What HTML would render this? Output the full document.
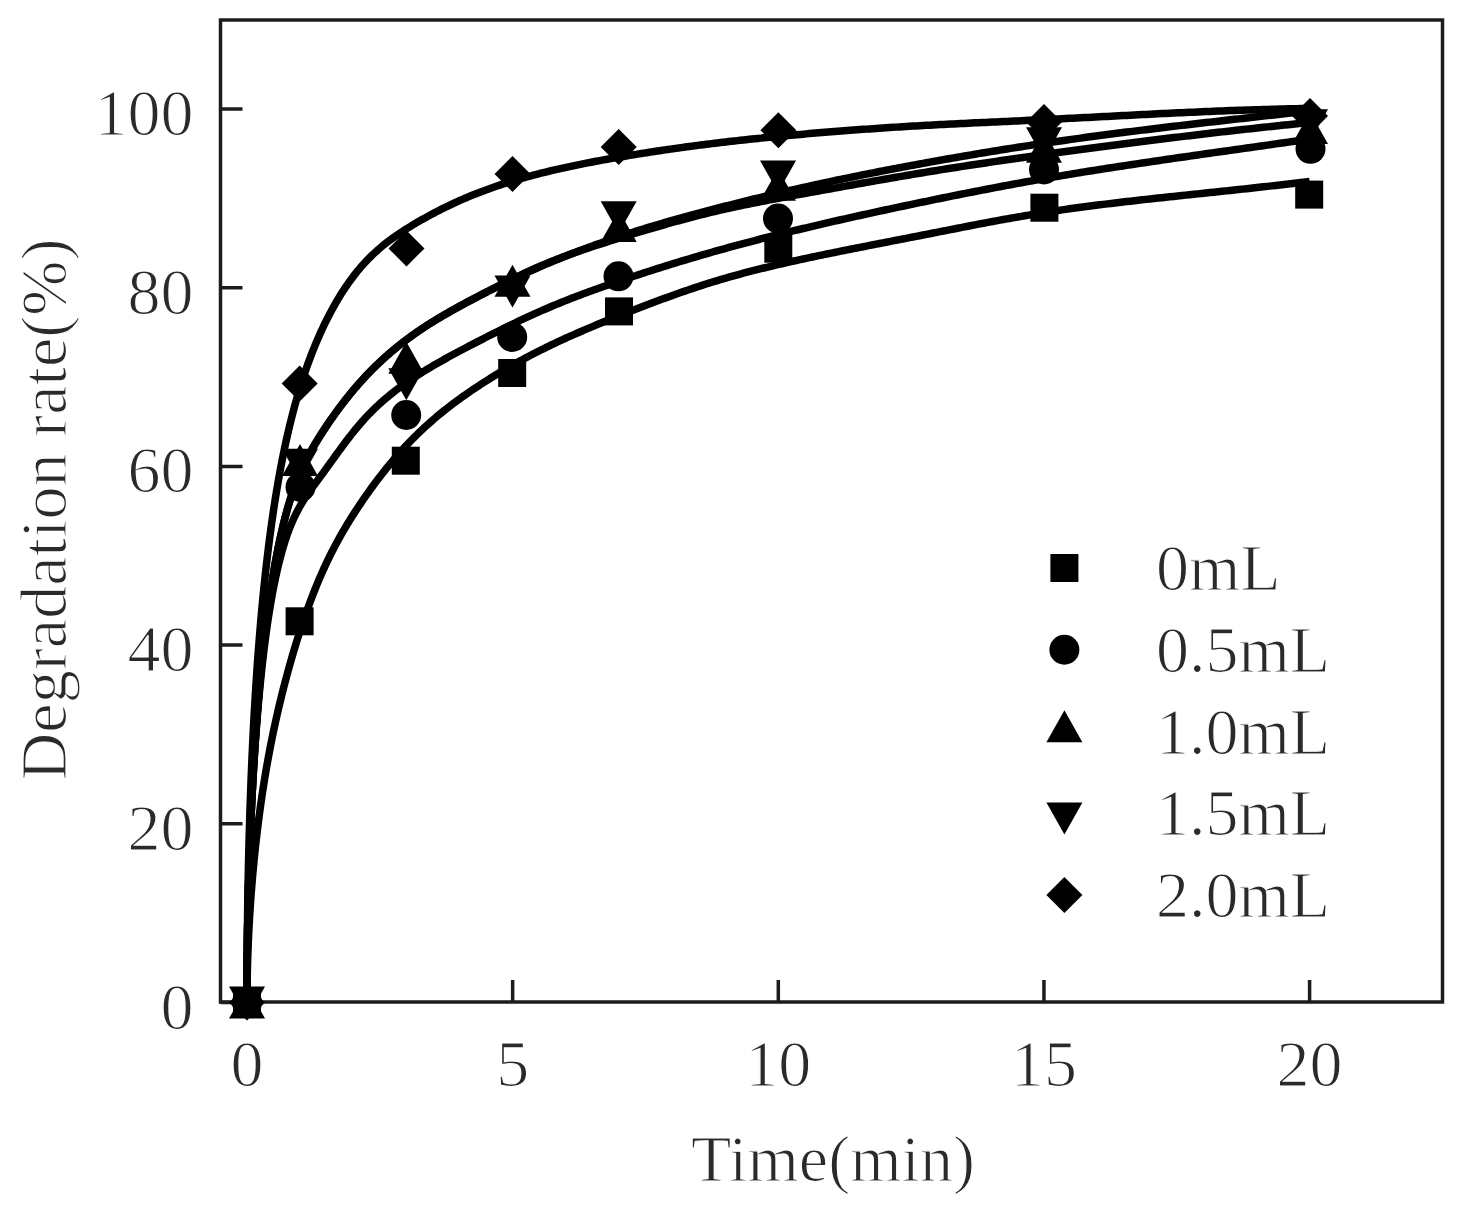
<!DOCTYPE html>
<html><head><meta charset="utf-8"><style>html,body{margin:0;padding:0;background:#fff;overflow:hidden}svg{display:block;filter:blur(0.5px)}</style></head><body>
<svg width="1465" height="1206" viewBox="0 0 1465 1206">
<rect width="1465" height="1206" fill="#fff"/>
<rect x="220.5" y="20" width="1222.0" height="982" fill="none" stroke="#1c1c1c" stroke-width="3.5"/>
<path d="M247.00 1002 V980 M512.65 1002 V980 M778.30 1002 V980 M1043.95 1002 V980 M1309.60 1002 V980 M220.5 1002.50 H242.5 M220.5 823.80 H242.5 M220.5 645.10 H242.5 M220.5 466.40 H242.5 M220.5 287.70 H242.5 M220.5 109.00 H242.5" stroke="#1c1c1c" stroke-width="3.5" fill="none"/>
<g fill="none" stroke="#000" stroke-width="7.5" stroke-linejoin="round" stroke-linecap="butt">
<path d="M247.00 1002.50 L247.00 999.12 L247.02 995.73 L247.04 992.32 L247.07 988.91 L247.11 985.49 L247.15 982.06 L247.21 978.63 L247.27 975.18 L247.35 971.73 L247.43 968.27 L247.52 964.81 L247.61 961.33 L247.72 957.86 L247.84 954.37 L247.96 950.88 L248.09 947.39 L248.23 943.89 L248.38 940.38 L248.54 936.87 L248.71 933.36 L248.88 929.84 L249.07 926.32 L249.26 922.80 L249.46 919.27 L249.67 915.74 L249.88 912.21 L250.11 908.68 L250.35 905.15 L250.59 901.62 L250.84 898.08 L251.10 894.55 L251.37 891.01 L251.65 887.48 L251.93 883.94 L252.23 880.41 L252.53 876.88 L252.84 873.34 L253.16 869.82 L253.49 866.29 L253.83 862.77 L254.17 859.24 L254.53 855.73 L254.89 852.21 L255.26 848.70 L255.64 845.19 L256.03 841.69 L256.43 838.20 L256.83 834.70 L257.25 831.22 L257.67 827.74 L258.10 824.26 L258.54 820.79 L258.99 817.33 L259.44 813.88 L259.91 810.43 L260.38 806.99 L260.86 803.56 L261.36 800.14 L261.86 796.72 L262.36 793.32 L262.88 789.92 L263.40 786.54 L263.94 783.16 L264.48 779.79 L265.03 776.44 L265.59 773.09 L266.16 769.76 L266.73 766.44 L267.32 763.13 L267.91 759.83 L268.51 756.54 L269.12 753.27 L269.74 750.00 L270.37 746.74 L271.00 743.50 L271.65 740.26 L272.30 737.03 L272.96 733.82 L273.63 730.61 L274.31 727.42 L275.00 724.23 L275.69 721.05 L276.40 717.88 L277.11 714.72 L277.83 711.57 L278.56 708.43 L279.30 705.29 L280.05 702.17 L280.80 699.05 L281.57 695.94 L282.34 692.83 L283.12 689.74 L283.91 686.65 L284.71 683.57 L285.51 680.50 L286.33 677.44 L287.15 674.38 L287.98 671.32 L288.83 668.28 L289.67 665.24 L290.53 662.21 L291.40 659.18 L292.27 656.16 L293.16 653.15 L294.05 650.15 L294.95 647.16 L295.86 644.17 L296.78 641.20 L297.70 638.24 L298.64 635.29 L299.58 632.35 L300.53 629.42 L301.49 626.50 L302.46 623.60 L303.44 620.71 L304.42 617.84 L305.42 614.98 L306.42 612.14 L307.43 609.31 L308.45 606.50 L309.48 603.70 L310.52 600.92 L311.56 598.16 L312.62 595.42 L313.68 592.70 L314.75 590.00 L315.83 587.31 L316.92 584.65 L318.01 582.01 L319.12 579.39 L320.23 576.79 L321.36 574.22 L322.49 571.66 L323.63 569.13 L324.77 566.63 L325.93 564.15 L327.10 561.68 L328.27 559.25 L329.45 556.83 L330.64 554.43 L331.84 552.05 L333.05 549.70 L334.27 547.36 L335.49 545.04 L336.72 542.73 L337.97 540.45 L339.22 538.18 L340.47 535.93 L341.74 533.70 L343.02 531.48 L344.30 529.27 L345.60 527.08 L346.90 524.91 L348.21 522.74 L349.53 520.60 L350.85 518.46 L352.19 516.33 L353.53 514.22 L354.89 512.12 L356.25 510.02 L357.62 507.94 L359.00 505.87 L360.38 503.80 L361.78 501.74 L363.18 499.70 L364.59 497.65 L366.01 495.62 L367.44 493.59 L368.88 491.57 L370.33 489.56 L371.78 487.55 L373.25 485.55 L374.72 483.56 L376.20 481.58 L377.69 479.61 L379.19 477.64 L380.70 475.69 L382.21 473.74 L383.73 471.81 L385.27 469.88 L386.81 467.97 L388.36 466.06 L389.91 464.17 L391.48 462.29 L393.05 460.41 L394.64 458.55 L396.23 456.71 L397.83 454.87 L399.44 453.05 L401.06 451.23 L402.68 449.44 L404.32 447.65 L405.96 445.88 L407.61 444.12 L409.27 442.38 L410.94 440.65 L412.62 438.93 L414.30 437.24 L416.00 435.55 L417.70 433.88 L419.41 432.23 L421.13 430.59 L422.86 428.96 L424.59 427.35 L426.34 425.76 L428.09 424.18 L429.86 422.61 L431.63 421.06 L433.41 419.52 L435.19 417.99 L436.99 416.47 L438.80 414.97 L440.61 413.48 L442.43 412.00 L444.26 410.53 L446.10 409.08 L447.95 407.63 L449.81 406.20 L451.67 404.77 L453.54 403.36 L455.43 401.95 L457.32 400.56 L459.22 399.17 L461.12 397.79 L463.04 396.43 L464.96 395.07 L466.90 393.71 L468.84 392.37 L470.79 391.03 L472.75 389.70 L474.72 388.38 L476.69 387.07 L478.68 385.76 L480.67 384.45 L482.67 383.16 L484.68 381.87 L486.70 380.58 L488.73 379.30 L490.76 378.03 L492.81 376.77 L494.86 375.51 L496.92 374.25 L498.99 373.01 L501.07 371.77 L503.15 370.53 L505.25 369.30 L507.35 368.08 L509.47 366.87 L511.59 365.66 L513.72 364.45 L515.85 363.26 L518.00 362.07 L520.16 360.88 L522.32 359.70 L524.49 358.53 L526.67 357.37 L528.86 356.21 L531.06 355.05 L533.26 353.91 L535.48 352.77 L537.70 351.63 L539.94 350.51 L542.18 349.38 L544.42 348.27 L546.68 347.16 L548.95 346.06 L551.22 344.96 L553.51 343.87 L555.80 342.79 L558.10 341.71 L560.41 340.64 L562.72 339.57 L565.05 338.51 L567.38 337.45 L569.73 336.40 L572.08 335.35 L574.44 334.31 L576.81 333.27 L579.18 332.23 L581.57 331.20 L583.96 330.17 L586.36 329.15 L588.78 328.13 L591.20 327.11 L593.62 326.09 L596.06 325.08 L598.51 324.07 L600.96 323.06 L603.42 322.05 L605.89 321.05 L608.37 320.04 L610.86 319.04 L613.36 318.04 L615.86 317.04 L618.38 316.04 L620.90 315.04 L623.43 314.04 L625.97 313.04 L628.51 312.04 L631.07 311.04 L633.64 310.04 L636.21 309.04 L638.79 308.04 L641.38 307.04 L643.98 306.04 L646.59 305.04 L649.20 304.05 L651.83 303.05 L654.46 302.06 L657.10 301.07 L659.75 300.09 L662.41 299.10 L665.08 298.12 L667.75 297.15 L670.44 296.18 L673.13 295.21 L675.83 294.25 L678.54 293.29 L681.26 292.33 L683.99 291.39 L686.72 290.45 L689.47 289.51 L692.22 288.58 L694.98 287.66 L697.75 286.74 L700.53 285.83 L703.31 284.93 L706.11 284.04 L708.91 283.16 L711.73 282.28 L714.55 281.41 L717.38 280.56 L720.21 279.71 L723.06 278.87 L725.91 278.04 L728.78 277.22 L731.65 276.41 L734.53 275.60 L737.42 274.81 L740.32 274.02 L743.22 273.24 L746.14 272.47 L749.06 271.71 L751.99 270.95 L754.93 270.20 L757.88 269.46 L760.84 268.73 L763.81 268.00 L766.78 267.28 L769.76 266.56 L772.75 265.85 L775.75 265.14 L778.76 264.44 L781.78 263.74 L784.81 263.05 L787.84 262.37 L790.88 261.69 L793.93 261.01 L796.99 260.33 L800.06 259.66 L803.14 259.00 L806.22 258.33 L809.32 257.67 L812.42 257.01 L815.53 256.36 L818.65 255.70 L821.78 255.05 L824.92 254.40 L828.06 253.76 L831.21 253.11 L834.38 252.47 L837.55 251.82 L840.73 251.18 L843.91 250.54 L847.11 249.90 L850.32 249.26 L853.53 248.62 L856.75 247.98 L859.98 247.34 L863.22 246.70 L866.47 246.07 L869.72 245.43 L872.99 244.79 L876.26 244.15 L879.54 243.51 L882.83 242.87 L886.13 242.22 L889.44 241.58 L892.76 240.93 L896.08 240.29 L899.41 239.64 L902.75 238.99 L906.10 238.34 L909.46 237.68 L912.83 237.03 L916.20 236.37 L919.59 235.71 L922.98 235.04 L926.38 234.38 L929.79 233.71 L933.21 233.03 L936.64 232.36 L940.07 231.68 L943.52 231.00 L946.97 230.32 L950.43 229.64 L953.90 228.96 L957.38 228.27 L960.86 227.59 L964.36 226.91 L967.86 226.23 L971.37 225.55 L974.90 224.87 L978.42 224.19 L981.96 223.52 L985.51 222.84 L989.06 222.17 L992.63 221.51 L996.20 220.84 L999.78 220.18 L1003.37 219.53 L1006.97 218.88 L1010.57 218.23 L1014.19 217.59 L1017.81 216.96 L1021.44 216.33 L1025.08 215.71 L1028.73 215.09 L1032.39 214.48 L1036.05 213.88 L1039.73 213.29 L1043.41 212.70 L1047.10 212.12 L1050.80 211.56 L1054.51 211.00 L1058.23 210.44 L1061.95 209.90 L1065.69 209.36 L1069.43 208.83 L1073.18 208.31 L1076.94 207.79 L1080.71 207.28 L1084.48 206.78 L1088.27 206.28 L1092.06 205.79 L1095.86 205.31 L1099.68 204.83 L1103.49 204.35 L1107.32 203.88 L1111.16 203.41 L1115.00 202.95 L1118.86 202.50 L1122.72 202.04 L1126.59 201.59 L1130.47 201.15 L1134.36 200.71 L1138.25 200.27 L1142.16 199.83 L1146.07 199.39 L1149.99 198.96 L1153.92 198.53 L1157.86 198.10 L1161.81 197.68 L1165.77 197.25 L1169.73 196.83 L1173.70 196.41 L1177.68 195.98 L1181.67 195.56 L1185.67 195.14 L1189.68 194.72 L1193.70 194.29 L1197.72 193.87 L1201.75 193.45 L1205.79 193.02 L1209.84 192.60 L1213.90 192.17 L1217.97 191.74 L1222.04 191.31 L1226.13 190.87 L1230.22 190.44 L1234.32 190.00 L1238.43 189.56 L1242.55 189.11 L1246.68 188.67 L1250.81 188.21 L1254.96 187.76 L1259.11 187.30 L1263.27 186.83 L1267.44 186.37 L1271.62 185.89 L1275.80 185.41 L1280.00 184.93 L1284.20 184.44 L1288.41 183.94 L1292.63 183.44 L1296.86 182.94 L1301.10 182.42 L1305.35 181.90 L1309.60 181.37"/>
<path d="M247.00 1002.50 L247.00 996.35 L247.02 990.19 L247.04 984.04 L247.07 977.88 L247.11 971.73 L247.15 965.58 L247.21 959.43 L247.27 953.29 L247.35 947.16 L247.43 941.03 L247.52 934.91 L247.61 928.79 L247.72 922.69 L247.84 916.59 L247.96 910.51 L248.09 904.44 L248.23 898.38 L248.38 892.34 L248.54 886.31 L248.71 880.30 L248.88 874.30 L249.07 868.33 L249.26 862.37 L249.46 856.43 L249.67 850.51 L249.88 844.61 L250.11 838.74 L250.35 832.88 L250.59 827.06 L250.84 821.26 L251.10 815.48 L251.37 809.73 L251.65 804.01 L251.93 798.32 L252.23 792.66 L252.53 787.03 L252.84 781.43 L253.16 775.86 L253.49 770.33 L253.83 764.83 L254.17 759.37 L254.53 753.95 L254.89 748.56 L255.26 743.21 L255.64 737.90 L256.03 732.63 L256.43 727.40 L256.83 722.22 L257.25 717.07 L257.67 711.97 L258.10 706.92 L258.54 701.91 L258.99 696.95 L259.44 692.04 L259.91 687.17 L260.38 682.36 L260.86 677.59 L261.36 672.88 L261.86 668.22 L262.36 663.61 L262.88 659.06 L263.40 654.56 L263.94 650.12 L264.48 645.74 L265.03 641.41 L265.59 637.15 L266.16 632.94 L266.73 628.79 L267.32 624.71 L267.91 620.68 L268.51 616.72 L269.12 612.82 L269.74 608.97 L270.37 605.19 L271.00 601.47 L271.65 597.81 L272.30 594.20 L272.96 590.66 L273.63 587.18 L274.31 583.76 L275.00 580.40 L275.69 577.10 L276.40 573.86 L277.11 570.68 L277.83 567.56 L278.56 564.50 L279.30 561.51 L280.05 558.57 L280.80 555.69 L281.57 552.87 L282.34 550.11 L283.12 547.42 L283.91 544.78 L284.71 542.20 L285.51 539.69 L286.33 537.23 L287.15 534.83 L287.98 532.50 L288.83 530.22 L289.67 528.01 L290.53 525.85 L291.40 523.75 L292.27 521.71 L293.16 519.71 L294.05 517.77 L294.95 515.88 L295.86 514.03 L296.78 512.22 L297.70 510.45 L298.64 508.72 L299.58 507.03 L300.53 505.37 L301.49 503.74 L302.46 502.13 L303.44 500.55 L304.42 499.00 L305.42 497.47 L306.42 495.95 L307.43 494.45 L308.45 492.96 L309.48 491.49 L310.52 490.02 L311.56 488.56 L312.62 487.10 L313.68 485.65 L314.75 484.19 L315.83 482.73 L316.92 481.26 L318.01 479.79 L319.12 478.30 L320.23 476.80 L321.36 475.28 L322.49 473.75 L323.63 472.19 L324.77 470.62 L325.93 469.03 L327.10 467.42 L328.27 465.79 L329.45 464.15 L330.64 462.50 L331.84 460.83 L333.05 459.15 L334.27 457.47 L335.49 455.77 L336.72 454.07 L337.97 452.36 L339.22 450.65 L340.47 448.93 L341.74 447.21 L343.02 445.49 L344.30 443.77 L345.60 442.05 L346.90 440.33 L348.21 438.62 L349.53 436.91 L350.85 435.21 L352.19 433.52 L353.53 431.84 L354.89 430.16 L356.25 428.50 L357.62 426.85 L359.00 425.22 L360.38 423.60 L361.78 421.99 L363.18 420.41 L364.59 418.84 L366.01 417.29 L367.44 415.76 L368.88 414.26 L370.33 412.77 L371.78 411.30 L373.25 409.85 L374.72 408.42 L376.20 407.01 L377.69 405.61 L379.19 404.23 L380.70 402.87 L382.21 401.52 L383.73 400.19 L385.27 398.88 L386.81 397.58 L388.36 396.29 L389.91 395.02 L391.48 393.76 L393.05 392.51 L394.64 391.28 L396.23 390.06 L397.83 388.86 L399.44 387.66 L401.06 386.48 L402.68 385.30 L404.32 384.14 L405.96 382.99 L407.61 381.84 L409.27 380.71 L410.94 379.58 L412.62 378.46 L414.30 377.35 L416.00 376.25 L417.70 375.16 L419.41 374.07 L421.13 372.99 L422.86 371.91 L424.59 370.84 L426.34 369.78 L428.09 368.72 L429.86 367.66 L431.63 366.61 L433.41 365.57 L435.19 364.53 L436.99 363.49 L438.80 362.46 L440.61 361.43 L442.43 360.40 L444.26 359.38 L446.10 358.36 L447.95 357.34 L449.81 356.32 L451.67 355.31 L453.54 354.29 L455.43 353.28 L457.32 352.27 L459.22 351.26 L461.12 350.24 L463.04 349.23 L464.96 348.22 L466.90 347.21 L468.84 346.19 L470.79 345.18 L472.75 344.16 L474.72 343.14 L476.69 342.12 L478.68 341.10 L480.67 340.08 L482.67 339.05 L484.68 338.02 L486.70 336.99 L488.73 335.96 L490.76 334.92 L492.81 333.89 L494.86 332.85 L496.92 331.82 L498.99 330.78 L501.07 329.75 L503.15 328.71 L505.25 327.67 L507.35 326.64 L509.47 325.61 L511.59 324.58 L513.72 323.55 L515.85 322.52 L518.00 321.49 L520.16 320.47 L522.32 319.45 L524.49 318.43 L526.67 317.41 L528.86 316.40 L531.06 315.39 L533.26 314.39 L535.48 313.39 L537.70 312.39 L539.94 311.40 L542.18 310.42 L544.42 309.44 L546.68 308.46 L548.95 307.49 L551.22 306.53 L553.51 305.57 L555.80 304.62 L558.10 303.68 L560.41 302.74 L562.72 301.80 L565.05 300.87 L567.38 299.95 L569.73 299.03 L572.08 298.11 L574.44 297.20 L576.81 296.30 L579.18 295.39 L581.57 294.50 L583.96 293.60 L586.36 292.71 L588.78 291.83 L591.20 290.94 L593.62 290.06 L596.06 289.18 L598.51 288.31 L600.96 287.44 L603.42 286.57 L605.89 285.70 L608.37 284.84 L610.86 283.98 L613.36 283.12 L615.86 282.26 L618.38 281.40 L620.90 280.55 L623.43 279.69 L625.97 278.84 L628.51 277.99 L631.07 277.14 L633.64 276.29 L636.21 275.44 L638.79 274.59 L641.38 273.74 L643.98 272.90 L646.59 272.05 L649.20 271.21 L651.83 270.37 L654.46 269.52 L657.10 268.68 L659.75 267.85 L662.41 267.01 L665.08 266.17 L667.75 265.34 L670.44 264.51 L673.13 263.68 L675.83 262.85 L678.54 262.02 L681.26 261.19 L683.99 260.37 L686.72 259.55 L689.47 258.73 L692.22 257.91 L694.98 257.09 L697.75 256.28 L700.53 255.47 L703.31 254.66 L706.11 253.85 L708.91 253.05 L711.73 252.25 L714.55 251.45 L717.38 250.65 L720.21 249.85 L723.06 249.06 L725.91 248.27 L728.78 247.49 L731.65 246.70 L734.53 245.92 L737.42 245.14 L740.32 244.36 L743.22 243.59 L746.14 242.82 L749.06 242.05 L751.99 241.28 L754.93 240.51 L757.88 239.75 L760.84 238.99 L763.81 238.23 L766.78 237.47 L769.76 236.71 L772.75 235.96 L775.75 235.21 L778.76 234.46 L781.78 233.71 L784.81 232.96 L787.84 232.22 L790.88 231.48 L793.93 230.73 L796.99 229.99 L800.06 229.26 L803.14 228.52 L806.22 227.78 L809.32 227.05 L812.42 226.32 L815.53 225.59 L818.65 224.86 L821.78 224.13 L824.92 223.40 L828.06 222.67 L831.21 221.95 L834.38 221.22 L837.55 220.50 L840.73 219.78 L843.91 219.06 L847.11 218.34 L850.32 217.62 L853.53 216.90 L856.75 216.19 L859.98 215.47 L863.22 214.76 L866.47 214.04 L869.72 213.33 L872.99 212.62 L876.26 211.90 L879.54 211.19 L882.83 210.48 L886.13 209.77 L889.44 209.06 L892.76 208.35 L896.08 207.65 L899.41 206.94 L902.75 206.23 L906.10 205.53 L909.46 204.82 L912.83 204.11 L916.20 203.41 L919.59 202.70 L922.98 202.00 L926.38 201.30 L929.79 200.59 L933.21 199.89 L936.64 199.19 L940.07 198.48 L943.52 197.78 L946.97 197.08 L950.43 196.38 L953.90 195.68 L957.38 194.98 L960.86 194.29 L964.36 193.59 L967.86 192.90 L971.37 192.20 L974.90 191.51 L978.42 190.82 L981.96 190.13 L985.51 189.45 L989.06 188.76 L992.63 188.08 L996.20 187.40 L999.78 186.72 L1003.37 186.04 L1006.97 185.37 L1010.57 184.70 L1014.19 184.03 L1017.81 183.36 L1021.44 182.70 L1025.08 182.04 L1028.73 181.38 L1032.39 180.73 L1036.05 180.08 L1039.73 179.43 L1043.41 178.79 L1047.10 178.15 L1050.80 177.51 L1054.51 176.87 L1058.23 176.24 L1061.95 175.62 L1065.69 174.99 L1069.43 174.37 L1073.18 173.75 L1076.94 173.14 L1080.71 172.52 L1084.48 171.91 L1088.27 171.31 L1092.06 170.70 L1095.86 170.10 L1099.68 169.50 L1103.49 168.90 L1107.32 168.30 L1111.16 167.71 L1115.00 167.11 L1118.86 166.52 L1122.72 165.93 L1126.59 165.35 L1130.47 164.76 L1134.36 164.18 L1138.25 163.59 L1142.16 163.01 L1146.07 162.43 L1149.99 161.85 L1153.92 161.27 L1157.86 160.70 L1161.81 160.12 L1165.77 159.54 L1169.73 158.97 L1173.70 158.39 L1177.68 157.82 L1181.67 157.24 L1185.67 156.67 L1189.68 156.09 L1193.70 155.52 L1197.72 154.95 L1201.75 154.37 L1205.79 153.80 L1209.84 153.22 L1213.90 152.65 L1217.97 152.07 L1222.04 151.50 L1226.13 150.92 L1230.22 150.34 L1234.32 149.76 L1238.43 149.19 L1242.55 148.60 L1246.68 148.02 L1250.81 147.44 L1254.96 146.86 L1259.11 146.27 L1263.27 145.68 L1267.44 145.10 L1271.62 144.51 L1275.80 143.91 L1280.00 143.32 L1284.20 142.72 L1288.41 142.13 L1292.63 141.53 L1296.86 140.92 L1301.10 140.32 L1305.35 139.71 L1309.60 139.10"/>
<path d="M247.00 1002.50 L247.00 996.44 L247.02 990.37 L247.04 984.30 L247.07 978.22 L247.11 972.14 L247.15 966.05 L247.21 959.96 L247.27 953.87 L247.35 947.78 L247.43 941.69 L247.52 935.60 L247.61 929.51 L247.72 923.43 L247.84 917.35 L247.96 911.27 L248.09 905.20 L248.23 899.13 L248.38 893.08 L248.54 887.03 L248.71 880.99 L248.88 874.96 L249.07 868.94 L249.26 862.93 L249.46 856.94 L249.67 850.95 L249.88 844.99 L250.11 839.04 L250.35 833.10 L250.59 827.18 L250.84 821.28 L251.10 815.40 L251.37 809.54 L251.65 803.70 L251.93 797.88 L252.23 792.08 L252.53 786.30 L252.84 780.55 L253.16 774.83 L253.49 769.13 L253.83 763.45 L254.17 757.81 L254.53 752.19 L254.89 746.60 L255.26 741.05 L255.64 735.52 L256.03 730.03 L256.43 724.57 L256.83 719.14 L257.25 713.75 L257.67 708.39 L258.10 703.07 L258.54 697.78 L258.99 692.54 L259.44 687.33 L259.91 682.17 L260.38 677.04 L260.86 671.96 L261.36 666.92 L261.86 661.92 L262.36 656.97 L262.88 652.06 L263.40 647.20 L263.94 642.39 L264.48 637.62 L265.03 632.90 L265.59 628.23 L266.16 623.62 L266.73 619.05 L267.32 614.54 L267.91 610.07 L268.51 605.66 L269.12 601.30 L269.74 597.00 L270.37 592.74 L271.00 588.54 L271.65 584.39 L272.30 580.30 L272.96 576.26 L273.63 572.27 L274.31 568.34 L275.00 564.46 L275.69 560.64 L276.40 556.87 L277.11 553.16 L277.83 549.50 L278.56 545.90 L279.30 542.35 L280.05 538.86 L280.80 535.43 L281.57 532.05 L282.34 528.73 L283.12 525.47 L283.91 522.27 L284.71 519.12 L285.51 516.03 L286.33 513.00 L287.15 510.03 L287.98 507.11 L288.83 504.26 L289.67 501.46 L290.53 498.72 L291.40 496.04 L292.27 493.42 L293.16 490.85 L294.05 488.33 L294.95 485.86 L295.86 483.45 L296.78 481.07 L297.70 478.75 L298.64 476.47 L299.58 474.22 L300.53 472.02 L301.49 469.86 L302.46 467.74 L303.44 465.65 L304.42 463.59 L305.42 461.57 L306.42 459.58 L307.43 457.61 L308.45 455.67 L309.48 453.76 L310.52 451.87 L311.56 450.00 L312.62 448.15 L313.68 446.32 L314.75 444.50 L315.83 442.70 L316.92 440.92 L318.01 439.14 L319.12 437.37 L320.23 435.62 L321.36 433.86 L322.49 432.12 L323.63 430.37 L324.77 428.63 L325.93 426.89 L327.10 425.16 L328.27 423.43 L329.45 421.70 L330.64 419.98 L331.84 418.26 L333.05 416.54 L334.27 414.84 L335.49 413.13 L336.72 411.43 L337.97 409.74 L339.22 408.05 L340.47 406.37 L341.74 404.69 L343.02 403.03 L344.30 401.36 L345.60 399.71 L346.90 398.06 L348.21 396.42 L349.53 394.79 L350.85 393.16 L352.19 391.55 L353.53 389.94 L354.89 388.34 L356.25 386.75 L357.62 385.17 L359.00 383.60 L360.38 382.03 L361.78 380.48 L363.18 378.94 L364.59 377.41 L366.01 375.88 L367.44 374.37 L368.88 372.87 L370.33 371.38 L371.78 369.91 L373.25 368.44 L374.72 366.98 L376.20 365.53 L377.69 364.10 L379.19 362.67 L380.70 361.25 L382.21 359.85 L383.73 358.46 L385.27 357.07 L386.81 355.70 L388.36 354.34 L389.91 352.98 L391.48 351.64 L393.05 350.31 L394.64 348.99 L396.23 347.68 L397.83 346.38 L399.44 345.09 L401.06 343.82 L402.68 342.55 L404.32 341.29 L405.96 340.05 L407.61 338.81 L409.27 337.58 L410.94 336.37 L412.62 335.16 L414.30 333.97 L416.00 332.79 L417.70 331.61 L419.41 330.45 L421.13 329.30 L422.86 328.15 L424.59 327.02 L426.34 325.89 L428.09 324.77 L429.86 323.66 L431.63 322.56 L433.41 321.47 L435.19 320.38 L436.99 319.30 L438.80 318.22 L440.61 317.15 L442.43 316.08 L444.26 315.02 L446.10 313.97 L447.95 312.91 L449.81 311.86 L451.67 310.82 L453.54 309.77 L455.43 308.73 L457.32 307.69 L459.22 306.65 L461.12 305.62 L463.04 304.58 L464.96 303.54 L466.90 302.51 L468.84 301.47 L470.79 300.43 L472.75 299.39 L474.72 298.35 L476.69 297.31 L478.68 296.26 L480.67 295.21 L482.67 294.16 L484.68 293.11 L486.70 292.06 L488.73 291.00 L490.76 289.94 L492.81 288.89 L494.86 287.83 L496.92 286.77 L498.99 285.71 L501.07 284.66 L503.15 283.60 L505.25 282.55 L507.35 281.50 L509.47 280.45 L511.59 279.41 L513.72 278.37 L515.85 277.33 L518.00 276.30 L520.16 275.27 L522.32 274.24 L524.49 273.22 L526.67 272.21 L528.86 271.20 L531.06 270.20 L533.26 269.21 L535.48 268.22 L537.70 267.24 L539.94 266.27 L542.18 265.31 L544.42 264.36 L546.68 263.41 L548.95 262.48 L551.22 261.55 L553.51 260.63 L555.80 259.73 L558.10 258.83 L560.41 257.94 L562.72 257.06 L565.05 256.19 L567.38 255.33 L569.73 254.47 L572.08 253.62 L574.44 252.78 L576.81 251.94 L579.18 251.11 L581.57 250.29 L583.96 249.47 L586.36 248.66 L588.78 247.85 L591.20 247.05 L593.62 246.25 L596.06 245.45 L598.51 244.66 L600.96 243.87 L603.42 243.08 L605.89 242.30 L608.37 241.52 L610.86 240.74 L613.36 239.97 L615.86 239.19 L618.38 238.41 L620.90 237.64 L623.43 236.87 L625.97 236.09 L628.51 235.32 L631.07 234.55 L633.64 233.77 L636.21 233.00 L638.79 232.22 L641.38 231.45 L643.98 230.67 L646.59 229.90 L649.20 229.12 L651.83 228.35 L654.46 227.58 L657.10 226.81 L659.75 226.05 L662.41 225.28 L665.08 224.52 L667.75 223.76 L670.44 223.01 L673.13 222.25 L675.83 221.50 L678.54 220.76 L681.26 220.02 L683.99 219.28 L686.72 218.55 L689.47 217.82 L692.22 217.09 L694.98 216.38 L697.75 215.66 L700.53 214.96 L703.31 214.26 L706.11 213.56 L708.91 212.87 L711.73 212.19 L714.55 211.52 L717.38 210.85 L720.21 210.19 L723.06 209.54 L725.91 208.90 L728.78 208.26 L731.65 207.63 L734.53 207.01 L737.42 206.39 L740.32 205.78 L743.22 205.17 L746.14 204.57 L749.06 203.97 L751.99 203.38 L754.93 202.79 L757.88 202.21 L760.84 201.63 L763.81 201.06 L766.78 200.48 L769.76 199.92 L772.75 199.35 L775.75 198.79 L778.76 198.22 L781.78 197.66 L784.81 197.10 L787.84 196.55 L790.88 195.99 L793.93 195.43 L796.99 194.88 L800.06 194.32 L803.14 193.77 L806.22 193.21 L809.32 192.66 L812.42 192.10 L815.53 191.54 L818.65 190.98 L821.78 190.41 L824.92 189.85 L828.06 189.28 L831.21 188.72 L834.38 188.15 L837.55 187.58 L840.73 187.00 L843.91 186.43 L847.11 185.86 L850.32 185.28 L853.53 184.71 L856.75 184.13 L859.98 183.56 L863.22 182.98 L866.47 182.40 L869.72 181.82 L872.99 181.25 L876.26 180.67 L879.54 180.10 L882.83 179.52 L886.13 178.94 L889.44 178.37 L892.76 177.80 L896.08 177.22 L899.41 176.65 L902.75 176.08 L906.10 175.51 L909.46 174.94 L912.83 174.38 L916.20 173.81 L919.59 173.25 L922.98 172.69 L926.38 172.13 L929.79 171.57 L933.21 171.02 L936.64 170.47 L940.07 169.92 L943.52 169.37 L946.97 168.82 L950.43 168.28 L953.90 167.73 L957.38 167.19 L960.86 166.65 L964.36 166.12 L967.86 165.58 L971.37 165.05 L974.90 164.51 L978.42 163.98 L981.96 163.45 L985.51 162.92 L989.06 162.40 L992.63 161.87 L996.20 161.35 L999.78 160.82 L1003.37 160.30 L1006.97 159.78 L1010.57 159.26 L1014.19 158.74 L1017.81 158.22 L1021.44 157.70 L1025.08 157.19 L1028.73 156.67 L1032.39 156.15 L1036.05 155.64 L1039.73 155.13 L1043.41 154.61 L1047.10 154.10 L1050.80 153.59 L1054.51 153.07 L1058.23 152.56 L1061.95 152.05 L1065.69 151.54 L1069.43 151.03 L1073.18 150.52 L1076.94 150.01 L1080.71 149.50 L1084.48 149.00 L1088.27 148.49 L1092.06 147.98 L1095.86 147.48 L1099.68 146.97 L1103.49 146.47 L1107.32 145.97 L1111.16 145.47 L1115.00 144.97 L1118.86 144.47 L1122.72 143.97 L1126.59 143.47 L1130.47 142.97 L1134.36 142.48 L1138.25 141.98 L1142.16 141.49 L1146.07 140.99 L1149.99 140.50 L1153.92 140.01 L1157.86 139.52 L1161.81 139.04 L1165.77 138.55 L1169.73 138.06 L1173.70 137.58 L1177.68 137.10 L1181.67 136.61 L1185.67 136.13 L1189.68 135.66 L1193.70 135.18 L1197.72 134.70 L1201.75 134.23 L1205.79 133.76 L1209.84 133.28 L1213.90 132.81 L1217.97 132.35 L1222.04 131.88 L1226.13 131.41 L1230.22 130.95 L1234.32 130.49 L1238.43 130.03 L1242.55 129.57 L1246.68 129.11 L1250.81 128.66 L1254.96 128.21 L1259.11 127.75 L1263.27 127.31 L1267.44 126.86 L1271.62 126.41 L1275.80 125.97 L1280.00 125.53 L1284.20 125.09 L1288.41 124.65 L1292.63 124.21 L1296.86 123.78 L1301.10 123.35 L1305.35 122.92 L1309.60 122.49"/>
<path d="M247.00 1002.50 L247.00 996.44 L247.02 990.37 L247.04 984.30 L247.07 978.22 L247.11 972.13 L247.15 966.05 L247.21 959.96 L247.27 953.87 L247.35 947.78 L247.43 941.69 L247.52 935.60 L247.61 929.51 L247.72 923.42 L247.84 917.34 L247.96 911.27 L248.09 905.20 L248.23 899.13 L248.38 893.08 L248.54 887.03 L248.71 880.99 L248.88 874.96 L249.07 868.94 L249.26 862.93 L249.46 856.94 L249.67 850.96 L249.88 844.99 L250.11 839.04 L250.35 833.11 L250.59 827.19 L250.84 821.29 L251.10 815.41 L251.37 809.55 L251.65 803.70 L251.93 797.88 L252.23 792.09 L252.53 786.31 L252.84 780.56 L253.16 774.84 L253.49 769.14 L253.83 763.47 L254.17 757.82 L254.53 752.21 L254.89 746.62 L255.26 741.06 L255.64 735.54 L256.03 730.04 L256.43 724.58 L256.83 719.15 L257.25 713.76 L257.67 708.41 L258.10 703.08 L258.54 697.80 L258.99 692.56 L259.44 687.35 L259.91 682.18 L260.38 677.06 L260.86 671.97 L261.36 666.93 L261.86 661.94 L262.36 656.98 L262.88 652.07 L263.40 647.21 L263.94 642.40 L264.48 637.63 L265.03 632.91 L265.59 628.24 L266.16 623.62 L266.73 619.06 L267.32 614.54 L267.91 610.08 L268.51 605.66 L269.12 601.30 L269.74 597.00 L270.37 592.74 L271.00 588.54 L271.65 584.39 L272.30 580.29 L272.96 576.25 L273.63 572.26 L274.31 568.33 L275.00 564.45 L275.69 560.62 L276.40 556.85 L277.11 553.14 L277.83 549.48 L278.56 545.88 L279.30 542.33 L280.05 538.84 L280.80 535.40 L281.57 532.03 L282.34 528.71 L283.12 525.44 L283.91 522.24 L284.71 519.09 L285.51 516.00 L286.33 512.97 L287.15 510.00 L287.98 507.08 L288.83 504.23 L289.67 501.43 L290.53 498.70 L291.40 496.02 L292.27 493.40 L293.16 490.83 L294.05 488.31 L294.95 485.85 L295.86 483.43 L296.78 481.06 L297.70 478.74 L298.64 476.46 L299.58 474.22 L300.53 472.02 L301.49 469.86 L302.46 467.74 L303.44 465.66 L304.42 463.60 L305.42 461.58 L306.42 459.59 L307.43 457.63 L308.45 455.69 L309.48 453.78 L310.52 451.89 L311.56 450.02 L312.62 448.17 L313.68 446.34 L314.75 444.53 L315.83 442.73 L316.92 440.94 L318.01 439.17 L319.12 437.40 L320.23 435.64 L321.36 433.89 L322.49 432.14 L323.63 430.40 L324.77 428.65 L325.93 426.91 L327.10 425.18 L328.27 423.44 L329.45 421.71 L330.64 419.99 L331.84 418.27 L333.05 416.55 L334.27 414.84 L335.49 413.13 L336.72 411.42 L337.97 409.73 L339.22 408.04 L340.47 406.35 L341.74 404.67 L343.02 403.00 L344.30 401.34 L345.60 399.68 L346.90 398.03 L348.21 396.38 L349.53 394.75 L350.85 393.12 L352.19 391.50 L353.53 389.90 L354.89 388.30 L356.25 386.70 L357.62 385.12 L359.00 383.55 L360.38 381.99 L361.78 380.44 L363.18 378.90 L364.59 377.37 L366.01 375.85 L367.44 374.34 L368.88 372.85 L370.33 371.36 L371.78 369.89 L373.25 368.43 L374.72 366.98 L376.20 365.54 L377.69 364.11 L379.19 362.69 L380.70 361.28 L382.21 359.88 L383.73 358.49 L385.27 357.12 L386.81 355.75 L388.36 354.39 L389.91 353.05 L391.48 351.71 L393.05 350.38 L394.64 349.07 L396.23 347.76 L397.83 346.46 L399.44 345.18 L401.06 343.90 L402.68 342.63 L404.32 341.37 L405.96 340.12 L407.61 338.89 L409.27 337.66 L410.94 336.43 L412.62 335.22 L414.30 334.02 L416.00 332.83 L417.70 331.64 L419.41 330.47 L421.13 329.30 L422.86 328.14 L424.59 326.99 L426.34 325.85 L428.09 324.71 L429.86 323.58 L431.63 322.46 L433.41 321.35 L435.19 320.24 L436.99 319.14 L438.80 318.04 L440.61 316.96 L442.43 315.87 L444.26 314.79 L446.10 313.72 L447.95 312.65 L449.81 311.58 L451.67 310.52 L453.54 309.47 L455.43 308.41 L457.32 307.37 L459.22 306.32 L461.12 305.28 L463.04 304.24 L464.96 303.20 L466.90 302.16 L468.84 301.13 L470.79 300.10 L472.75 299.07 L474.72 298.04 L476.69 297.01 L478.68 295.98 L480.67 294.95 L482.67 293.93 L484.68 292.90 L486.70 291.87 L488.73 290.85 L490.76 289.83 L492.81 288.80 L494.86 287.78 L496.92 286.76 L498.99 285.74 L501.07 284.73 L503.15 283.71 L505.25 282.70 L507.35 281.69 L509.47 280.68 L511.59 279.67 L513.72 278.66 L515.85 277.66 L518.00 276.66 L520.16 275.66 L522.32 274.67 L524.49 273.67 L526.67 272.68 L528.86 271.69 L531.06 270.71 L533.26 269.73 L535.48 268.75 L537.70 267.77 L539.94 266.80 L542.18 265.83 L544.42 264.87 L546.68 263.91 L548.95 262.95 L551.22 262.00 L553.51 261.05 L555.80 260.11 L558.10 259.16 L560.41 258.23 L562.72 257.29 L565.05 256.36 L567.38 255.44 L569.73 254.52 L572.08 253.60 L574.44 252.69 L576.81 251.78 L579.18 250.87 L581.57 249.97 L583.96 249.07 L586.36 248.18 L588.78 247.29 L591.20 246.41 L593.62 245.53 L596.06 244.65 L598.51 243.78 L600.96 242.91 L603.42 242.04 L605.89 241.18 L608.37 240.32 L610.86 239.47 L613.36 238.62 L615.86 237.78 L618.38 236.94 L620.90 236.10 L623.43 235.27 L625.97 234.44 L628.51 233.61 L631.07 232.79 L633.64 231.98 L636.21 231.17 L638.79 230.36 L641.38 229.55 L643.98 228.75 L646.59 227.95 L649.20 227.16 L651.83 226.37 L654.46 225.58 L657.10 224.80 L659.75 224.02 L662.41 223.24 L665.08 222.47 L667.75 221.69 L670.44 220.93 L673.13 220.16 L675.83 219.40 L678.54 218.63 L681.26 217.88 L683.99 217.12 L686.72 216.37 L689.47 215.61 L692.22 214.86 L694.98 214.12 L697.75 213.37 L700.53 212.63 L703.31 211.88 L706.11 211.14 L708.91 210.40 L711.73 209.67 L714.55 208.93 L717.38 208.19 L720.21 207.46 L723.06 206.73 L725.91 206.00 L728.78 205.27 L731.65 204.54 L734.53 203.81 L737.42 203.08 L740.32 202.36 L743.22 201.63 L746.14 200.91 L749.06 200.19 L751.99 199.47 L754.93 198.75 L757.88 198.03 L760.84 197.32 L763.81 196.61 L766.78 195.89 L769.76 195.18 L772.75 194.47 L775.75 193.77 L778.76 193.06 L781.78 192.36 L784.81 191.66 L787.84 190.96 L790.88 190.26 L793.93 189.57 L796.99 188.87 L800.06 188.18 L803.14 187.49 L806.22 186.80 L809.32 186.12 L812.42 185.43 L815.53 184.75 L818.65 184.07 L821.78 183.39 L824.92 182.72 L828.06 182.05 L831.21 181.38 L834.38 180.71 L837.55 180.04 L840.73 179.38 L843.91 178.71 L847.11 178.05 L850.32 177.40 L853.53 176.74 L856.75 176.08 L859.98 175.43 L863.22 174.78 L866.47 174.13 L869.72 173.48 L872.99 172.84 L876.26 172.20 L879.54 171.55 L882.83 170.91 L886.13 170.28 L889.44 169.64 L892.76 169.00 L896.08 168.37 L899.41 167.74 L902.75 167.11 L906.10 166.48 L909.46 165.85 L912.83 165.23 L916.20 164.61 L919.59 163.98 L922.98 163.36 L926.38 162.74 L929.79 162.12 L933.21 161.51 L936.64 160.89 L940.07 160.28 L943.52 159.67 L946.97 159.06 L950.43 158.45 L953.90 157.84 L957.38 157.24 L960.86 156.63 L964.36 156.03 L967.86 155.43 L971.37 154.83 L974.90 154.24 L978.42 153.65 L981.96 153.05 L985.51 152.47 L989.06 151.88 L992.63 151.30 L996.20 150.71 L999.78 150.13 L1003.37 149.56 L1006.97 148.98 L1010.57 148.41 L1014.19 147.84 L1017.81 147.28 L1021.44 146.71 L1025.08 146.15 L1028.73 145.60 L1032.39 145.04 L1036.05 144.49 L1039.73 143.94 L1043.41 143.39 L1047.10 142.85 L1050.80 142.31 L1054.51 141.78 L1058.23 141.24 L1061.95 140.71 L1065.69 140.19 L1069.43 139.66 L1073.18 139.14 L1076.94 138.62 L1080.71 138.10 L1084.48 137.59 L1088.27 137.08 L1092.06 136.57 L1095.86 136.06 L1099.68 135.56 L1103.49 135.06 L1107.32 134.56 L1111.16 134.06 L1115.00 133.56 L1118.86 133.07 L1122.72 132.58 L1126.59 132.09 L1130.47 131.60 L1134.36 131.11 L1138.25 130.63 L1142.16 130.15 L1146.07 129.66 L1149.99 129.18 L1153.92 128.71 L1157.86 128.23 L1161.81 127.75 L1165.77 127.28 L1169.73 126.81 L1173.70 126.33 L1177.68 125.86 L1181.67 125.39 L1185.67 124.92 L1189.68 124.45 L1193.70 123.99 L1197.72 123.52 L1201.75 123.05 L1205.79 122.59 L1209.84 122.12 L1213.90 121.66 L1217.97 121.19 L1222.04 120.73 L1226.13 120.27 L1230.22 119.80 L1234.32 119.34 L1238.43 118.88 L1242.55 118.42 L1246.68 117.95 L1250.81 117.49 L1254.96 117.03 L1259.11 116.56 L1263.27 116.10 L1267.44 115.64 L1271.62 115.17 L1275.80 114.71 L1280.00 114.24 L1284.20 113.78 L1288.41 113.31 L1292.63 112.84 L1296.86 112.37 L1301.10 111.91 L1305.35 111.44 L1309.60 110.97"/>
<path d="M247.00 1002.50 L247.00 994.80 L247.02 987.14 L247.04 979.50 L247.07 971.90 L247.11 964.32 L247.15 956.78 L247.21 949.26 L247.27 941.78 L247.35 934.33 L247.43 926.91 L247.52 919.52 L247.61 912.17 L247.72 904.84 L247.84 897.56 L247.96 890.30 L248.09 883.08 L248.23 875.89 L248.38 868.74 L248.54 861.62 L248.71 854.54 L248.88 847.49 L249.07 840.48 L249.26 833.50 L249.46 826.56 L249.67 819.65 L249.88 812.79 L250.11 805.96 L250.35 799.17 L250.59 792.41 L250.84 785.69 L251.10 779.02 L251.37 772.38 L251.65 765.78 L251.93 759.22 L252.23 752.70 L252.53 746.22 L252.84 739.78 L253.16 733.38 L253.49 727.02 L253.83 720.70 L254.17 714.42 L254.53 708.19 L254.89 702.00 L255.26 695.85 L255.64 689.74 L256.03 683.68 L256.43 677.66 L256.83 671.68 L257.25 665.75 L257.67 659.86 L258.10 654.02 L258.54 648.22 L258.99 642.47 L259.44 636.76 L259.91 631.10 L260.38 625.48 L260.86 619.92 L261.36 614.40 L261.86 608.92 L262.36 603.49 L262.88 598.12 L263.40 592.79 L263.94 587.50 L264.48 582.27 L265.03 577.09 L265.59 571.95 L266.16 566.87 L266.73 561.83 L267.32 556.85 L267.91 551.91 L268.51 547.02 L269.12 542.18 L269.74 537.39 L270.37 532.65 L271.00 527.96 L271.65 523.31 L272.30 518.71 L272.96 514.16 L273.63 509.66 L274.31 505.20 L275.00 500.79 L275.69 496.43 L276.40 492.11 L277.11 487.84 L277.83 483.62 L278.56 479.44 L279.30 475.30 L280.05 471.22 L280.80 467.17 L281.57 463.17 L282.34 459.22 L283.12 455.30 L283.91 451.44 L284.71 447.61 L285.51 443.83 L286.33 440.09 L287.15 436.40 L287.98 432.75 L288.83 429.14 L289.67 425.57 L290.53 422.05 L291.40 418.56 L292.27 415.12 L293.16 411.72 L294.05 408.36 L294.95 405.03 L295.86 401.75 L296.78 398.50 L297.70 395.30 L298.64 392.13 L299.58 388.99 L300.53 385.90 L301.49 382.84 L302.46 379.82 L303.44 376.83 L304.42 373.87 L305.42 370.95 L306.42 368.07 L307.43 365.21 L308.45 362.39 L309.48 359.61 L310.52 356.85 L311.56 354.13 L312.62 351.43 L313.68 348.77 L314.75 346.14 L315.83 343.53 L316.92 340.96 L318.01 338.41 L319.12 335.89 L320.23 333.40 L321.36 330.94 L322.49 328.50 L323.63 326.09 L324.77 323.70 L325.93 321.34 L327.10 319.01 L328.27 316.70 L329.45 314.42 L330.64 312.17 L331.84 309.94 L333.05 307.74 L334.27 305.56 L335.49 303.41 L336.72 301.29 L337.97 299.19 L339.22 297.12 L340.47 295.08 L341.74 293.06 L343.02 291.07 L344.30 289.11 L345.60 287.18 L346.90 285.27 L348.21 283.39 L349.53 281.53 L350.85 279.70 L352.19 277.90 L353.53 276.13 L354.89 274.38 L356.25 272.66 L357.62 270.97 L359.00 269.30 L360.38 267.67 L361.78 266.06 L363.18 264.47 L364.59 262.92 L366.01 261.39 L367.44 259.89 L368.88 258.41 L370.33 256.97 L371.78 255.54 L373.25 254.14 L374.72 252.77 L376.20 251.41 L377.69 250.08 L379.19 248.77 L380.70 247.49 L382.21 246.22 L383.73 244.97 L385.27 243.74 L386.81 242.53 L388.36 241.34 L389.91 240.16 L391.48 239.00 L393.05 237.85 L394.64 236.72 L396.23 235.61 L397.83 234.51 L399.44 233.42 L401.06 232.34 L402.68 231.27 L404.32 230.22 L405.96 229.17 L407.61 228.14 L409.27 227.11 L410.94 226.09 L412.62 225.08 L414.30 224.07 L416.00 223.07 L417.70 222.08 L419.41 221.09 L421.13 220.10 L422.86 219.12 L424.59 218.15 L426.34 217.18 L428.09 216.22 L429.86 215.26 L431.63 214.31 L433.41 213.36 L435.19 212.42 L436.99 211.49 L438.80 210.56 L440.61 209.64 L442.43 208.72 L444.26 207.82 L446.10 206.91 L447.95 206.02 L449.81 205.13 L451.67 204.25 L453.54 203.37 L455.43 202.50 L457.32 201.64 L459.22 200.79 L461.12 199.94 L463.04 199.10 L464.96 198.27 L466.90 197.45 L468.84 196.63 L470.79 195.82 L472.75 195.02 L474.72 194.23 L476.69 193.45 L478.68 192.67 L480.67 191.90 L482.67 191.15 L484.68 190.40 L486.70 189.65 L488.73 188.92 L490.76 188.19 L492.81 187.48 L494.86 186.77 L496.92 186.06 L498.99 185.37 L501.07 184.68 L503.15 184.00 L505.25 183.33 L507.35 182.66 L509.47 182.00 L511.59 181.35 L513.72 180.71 L515.85 180.07 L518.00 179.44 L520.16 178.81 L522.32 178.19 L524.49 177.58 L526.67 176.98 L528.86 176.38 L531.06 175.78 L533.26 175.20 L535.48 174.62 L537.70 174.04 L539.94 173.47 L542.18 172.91 L544.42 172.35 L546.68 171.80 L548.95 171.25 L551.22 170.71 L553.51 170.17 L555.80 169.64 L558.10 169.11 L560.41 168.59 L562.72 168.08 L565.05 167.56 L567.38 167.06 L569.73 166.55 L572.08 166.05 L574.44 165.56 L576.81 165.07 L579.18 164.58 L581.57 164.10 L583.96 163.62 L586.36 163.15 L588.78 162.68 L591.20 162.21 L593.62 161.75 L596.06 161.29 L598.51 160.83 L600.96 160.38 L603.42 159.93 L605.89 159.48 L608.37 159.04 L610.86 158.60 L613.36 158.16 L615.86 157.73 L618.38 157.29 L620.90 156.86 L623.43 156.43 L625.97 156.01 L628.51 155.59 L631.07 155.16 L633.64 154.75 L636.21 154.33 L638.79 153.91 L641.38 153.50 L643.98 153.09 L646.59 152.68 L649.20 152.28 L651.83 151.87 L654.46 151.47 L657.10 151.07 L659.75 150.68 L662.41 150.28 L665.08 149.89 L667.75 149.50 L670.44 149.11 L673.13 148.73 L675.83 148.35 L678.54 147.97 L681.26 147.59 L683.99 147.21 L686.72 146.84 L689.47 146.47 L692.22 146.11 L694.98 145.74 L697.75 145.38 L700.53 145.02 L703.31 144.67 L706.11 144.31 L708.91 143.96 L711.73 143.62 L714.55 143.27 L717.38 142.93 L720.21 142.59 L723.06 142.25 L725.91 141.92 L728.78 141.59 L731.65 141.26 L734.53 140.94 L737.42 140.62 L740.32 140.30 L743.22 139.98 L746.14 139.67 L749.06 139.35 L751.99 139.04 L754.93 138.74 L757.88 138.43 L760.84 138.13 L763.81 137.83 L766.78 137.54 L769.76 137.24 L772.75 136.95 L775.75 136.66 L778.76 136.37 L781.78 136.09 L784.81 135.80 L787.84 135.52 L790.88 135.24 L793.93 134.97 L796.99 134.69 L800.06 134.42 L803.14 134.15 L806.22 133.88 L809.32 133.61 L812.42 133.35 L815.53 133.08 L818.65 132.82 L821.78 132.56 L824.92 132.30 L828.06 132.05 L831.21 131.79 L834.38 131.54 L837.55 131.29 L840.73 131.04 L843.91 130.79 L847.11 130.55 L850.32 130.31 L853.53 130.06 L856.75 129.83 L859.98 129.59 L863.22 129.35 L866.47 129.12 L869.72 128.89 L872.99 128.66 L876.26 128.44 L879.54 128.21 L882.83 127.99 L886.13 127.77 L889.44 127.56 L892.76 127.34 L896.08 127.13 L899.41 126.92 L902.75 126.71 L906.10 126.51 L909.46 126.30 L912.83 126.10 L916.20 125.90 L919.59 125.71 L922.98 125.52 L926.38 125.33 L929.79 125.14 L933.21 124.95 L936.64 124.77 L940.07 124.59 L943.52 124.41 L946.97 124.23 L950.43 124.06 L953.90 123.89 L957.38 123.71 L960.86 123.54 L964.36 123.38 L967.86 123.21 L971.37 123.04 L974.90 122.87 L978.42 122.71 L981.96 122.54 L985.51 122.38 L989.06 122.21 L992.63 122.05 L996.20 121.88 L999.78 121.72 L1003.37 121.55 L1006.97 121.39 L1010.57 121.22 L1014.19 121.05 L1017.81 120.89 L1021.44 120.72 L1025.08 120.55 L1028.73 120.37 L1032.39 120.20 L1036.05 120.03 L1039.73 119.85 L1043.41 119.67 L1047.10 119.49 L1050.80 119.31 L1054.51 119.12 L1058.23 118.94 L1061.95 118.75 L1065.69 118.56 L1069.43 118.37 L1073.18 118.18 L1076.94 117.98 L1080.71 117.79 L1084.48 117.59 L1088.27 117.39 L1092.06 117.20 L1095.86 117.00 L1099.68 116.80 L1103.49 116.60 L1107.32 116.40 L1111.16 116.20 L1115.00 116.00 L1118.86 115.80 L1122.72 115.60 L1126.59 115.40 L1130.47 115.20 L1134.36 115.00 L1138.25 114.80 L1142.16 114.60 L1146.07 114.40 L1149.99 114.21 L1153.92 114.01 L1157.86 113.82 L1161.81 113.62 L1165.77 113.43 L1169.73 113.24 L1173.70 113.05 L1177.68 112.86 L1181.67 112.68 L1185.67 112.49 L1189.68 112.31 L1193.70 112.13 L1197.72 111.95 L1201.75 111.78 L1205.79 111.60 L1209.84 111.43 L1213.90 111.27 L1217.97 111.10 L1222.04 110.94 L1226.13 110.78 L1230.22 110.62 L1234.32 110.47 L1238.43 110.32 L1242.55 110.17 L1246.68 110.03 L1250.81 109.89 L1254.96 109.76 L1259.11 109.63 L1263.27 109.50 L1267.44 109.38 L1271.62 109.26 L1275.80 109.14 L1280.00 109.03 L1284.20 108.93 L1288.41 108.82 L1292.63 108.73 L1296.86 108.64 L1301.10 108.55 L1305.35 108.47 L1309.60 108.39"/>
</g>
<g fill="#000">
<rect x="233.00" y="988.50" width="28" height="28"/>
<rect x="285.60" y="607.30" width="28" height="28"/>
<rect x="391.80" y="446.70" width="28" height="28"/>
<rect x="498.20" y="359.00" width="28" height="28"/>
<rect x="605.00" y="297.40" width="28" height="28"/>
<rect x="764.30" y="234.70" width="28" height="28"/>
<rect x="1030.40" y="193.70" width="28" height="28"/>
<rect x="1295.20" y="180.60" width="28" height="28"/>
<circle cx="247.00" cy="1002.50" r="15"/>
<circle cx="300.50" cy="487.00" r="15"/>
<circle cx="406.20" cy="415.00" r="15"/>
<circle cx="512.20" cy="337.00" r="15"/>
<circle cx="618.50" cy="276.30" r="15"/>
<circle cx="778.00" cy="218.50" r="15"/>
<circle cx="1044.00" cy="169.50" r="15"/>
<circle cx="1310.50" cy="148.80" r="15"/>
<path d="M247.00 986.47 L265.00 1018.47 L229.00 1018.47Z"/>
<path d="M300.00 443.97 L318.00 475.97 L282.00 475.97Z"/>
<path d="M406.30 341.67 L424.30 373.67 L388.30 373.67Z"/>
<path d="M512.50 264.67 L530.50 296.67 L494.50 296.67Z"/>
<path d="M618.70 210.07 L636.70 242.07 L600.70 242.07Z"/>
<path d="M778.00 168.67 L796.00 200.67 L760.00 200.67Z"/>
<path d="M1044.00 130.67 L1062.00 162.67 L1026.00 162.67Z"/>
<path d="M1310.00 111.97 L1328.00 143.97 L1292.00 143.97Z"/>
<path d="M229.00 986.53 L265.00 986.53 L247.00 1018.53Z"/>
<path d="M282.00 448.63 L318.00 448.63 L300.00 480.63Z"/>
<path d="M388.30 368.33 L424.30 368.33 L406.30 400.33Z"/>
<path d="M494.50 275.53 L530.50 275.53 L512.50 307.53Z"/>
<path d="M600.70 201.33 L636.70 201.33 L618.70 233.33Z"/>
<path d="M760.00 160.43 L796.00 160.43 L778.00 192.43Z"/>
<path d="M1026.00 127.33 L1062.00 127.33 L1044.00 159.33Z"/>
<path d="M1292.00 109.33 L1328.00 109.33 L1310.00 141.33Z"/>
<path d="M247.00 984.50 L265.00 1002.50 L247.00 1020.50 L229.00 1002.50Z"/>
<path d="M299.70 365.50 L317.70 383.50 L299.70 401.50 L281.70 383.50Z"/>
<path d="M406.50 230.40 L424.50 248.40 L406.50 266.40 L388.50 248.40Z"/>
<path d="M512.50 156.00 L530.50 174.00 L512.50 192.00 L494.50 174.00Z"/>
<path d="M618.70 129.00 L636.70 147.00 L618.70 165.00 L600.70 147.00Z"/>
<path d="M778.40 112.20 L796.40 130.20 L778.40 148.20 L760.40 130.20Z"/>
<path d="M1044.00 104.10 L1062.00 122.10 L1044.00 140.10 L1026.00 122.10Z"/>
<path d="M1310.00 98.00 L1328.00 116.00 L1310.00 134.00 L1292.00 116.00Z"/>
</g>
<g font-family="Liberation Serif, serif" font-size="66" fill="#2a2a2a" stroke="#fff" stroke-width="1.2">
<text x="247.00" y="0" text-anchor="middle" transform="translate(0 1086) scale(1 1.0)">0</text>
<text x="512.65" y="0" text-anchor="middle" transform="translate(0 1086) scale(1 1.0)">5</text>
<text x="778.30" y="0" text-anchor="middle" transform="translate(0 1086) scale(1 1.0)">10</text>
<text x="1043.95" y="0" text-anchor="middle" transform="translate(0 1086) scale(1 1.0)">15</text>
<text x="1309.60" y="0" text-anchor="middle" transform="translate(0 1086) scale(1 1.0)">20</text>
<text x="193.5" y="0" text-anchor="end" transform="translate(0 1028.50) scale(1 1.0)">0</text>
<text x="193.5" y="0" text-anchor="end" transform="translate(0 849.80) scale(1 1.0)">20</text>
<text x="193.5" y="0" text-anchor="end" transform="translate(0 671.10) scale(1 1.0)">40</text>
<text x="193.5" y="0" text-anchor="end" transform="translate(0 492.40) scale(1 1.0)">60</text>
<text x="193.5" y="0" text-anchor="end" transform="translate(0 313.70) scale(1 1.0)">80</text>
<text x="193.5" y="0" text-anchor="end" transform="translate(0 135.00) scale(1 1.0)">100</text>
<text x="691" y="0" transform="translate(0 1181) scale(1 1.0)" textLength="284" lengthAdjust="spacingAndGlyphs">Time(min)</text>
<text x="0" y="0" transform="translate(65.5 780.5) rotate(-90) scale(1 1.0)" textLength="542" lengthAdjust="spacingAndGlyphs">Degradation rate(%)</text>
<text x="1156" y="0" transform="translate(0 590.00) scale(1 1.0)">0mL</text>
<text x="1156" y="0" transform="translate(0 671.75) scale(1 1.0)">0.5mL</text>
<text x="1156" y="0" transform="translate(0 753.50) scale(1 1.0)">1.0mL</text>
<text x="1156" y="0" transform="translate(0 835.25) scale(1 1.0)">1.5mL</text>
<text x="1156" y="0" transform="translate(0 917.00) scale(1 1.0)">2.0mL</text>
</g>
<g fill="#000">
<rect x="1050.40" y="554.00" width="28" height="28"/>
<circle cx="1064.40" cy="649.75" r="15"/>
<path d="M1064.40 710.17 L1082.40 742.17 L1046.40 742.17Z"/>
<path d="M1046.40 802.58 L1082.40 802.58 L1064.40 834.58Z"/>
<path d="M1064.40 877.00 L1082.40 895.00 L1064.40 913.00 L1046.40 895.00Z"/>
</g>
</svg>
</body></html>
